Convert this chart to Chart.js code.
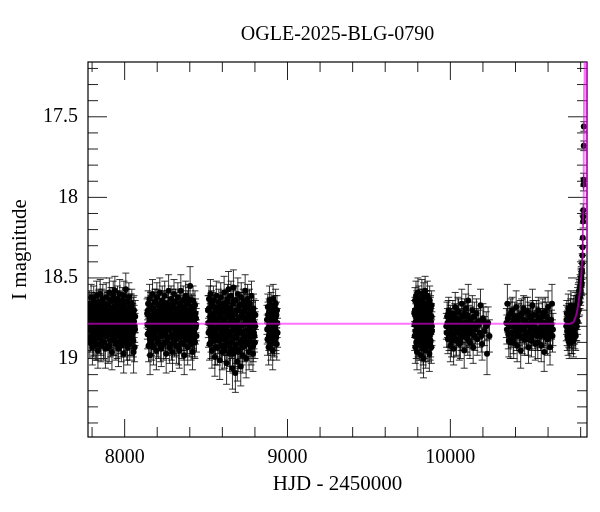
<!DOCTYPE html>
<html>
<head>
<meta charset="utf-8">
<script src="https://cdn.jsdelivr.net/npm/chart.js@4.4.1/dist/chart.umd.min.js"></script>
<style>
html,body{margin:0;padding:0;background:#fff;}
canvas{display:block;}
</style>
</head>
<body>
<canvas id="c" width="600" height="512"></canvas>
<script>
// ---- data: [HJD-2450000, I mag, error] ----
const season2017 = [[7778,18.74,.08],[7781,18.82,.09],[7783,18.66,.08],[7786,18.90,.10],[7788,18.71,.08],[7791,18.78,.09],[7794,18.62,.08],[7796,18.86,.09],[7799,18.75,.08],[7802,18.93,.11],[7804,18.69,.08],[7807,18.80,.09],[7810,18.64,.09],[7812,18.88,.10],[7815,18.72,.08],[7818,18.84,.09],[7820,18.67,.08],[7823,18.91,.10],[7826,18.76,.08],[7828,18.61,.09],[7831,18.83,.09],[7834,18.70,.08],[7836,18.95,.11],[7839,18.79,.09],[7842,18.65,.08],[7844,18.87,.10],[7847,18.73,.08],[7850,18.60,.09],[7852,18.81,.09],[7855,18.92,.10],[7858,18.68,.08],[7860,18.77,.09],[7863,18.85,.09],[7866,18.63,.09],[7868,18.74,.08],[7871,18.90,.11],[7874,18.71,.08],[7876,18.82,.09],[7879,18.66,.08],[7882,18.94,.12],[7884,18.78,.08],[7887,18.62,.09],[7890,18.86,.09],[7892,18.70,.08],[7895,18.80,.09],[7898,18.93,.10],[7900,18.67,.08],[7903,18.75,.09],[7906,18.59,.09],[7908,18.84,.09],[7911,18.72,.08],[7914,18.89,.10],[7916,18.64,.08],[7919,18.79,.09],[7922,18.96,.11],[7924,18.69,.08],[7927,18.83,.09],[7930,18.61,.09],[7932,18.76,.08],[7935,18.88,.10],[7938,18.73,.08],[7940,18.58,.09],[7943,18.81,.09],[7946,18.91,.10],[7948,18.66,.08],[7951,18.77,.09],[7954,18.85,.09],[7956,18.63,.08],[7959,18.74,.08],[7962,18.94,.11],[7964,18.70,.08],[7967,18.82,.09],[7970,18.60,.09],[7972,18.87,.10],[7975,18.75,.08],[7978,18.68,.08],[7980,18.92,.10],[7983,18.79,.09],[7986,18.64,.08],[7988,18.84,.09],[7991,18.72,.08],[7994,18.97,.12],[7996,18.61,.09],[7999,18.80,.09],[8002,18.69,.08],[8004,18.89,.10],[8007,18.57,.10],[8010,18.76,.08],[8012,18.86,.09],[8015,18.65,.08],[8018,18.93,.11],[8020,18.73,.08],[8023,18.83,.09],[8026,18.62,.09],[8028,18.78,.08],[8031,18.91,.10],[8034,18.68,.08],[8036,18.81,.09],[8039,18.74,.08],[8042,18.88,.10],[8044,18.66,.09],[8047,18.79,.09],[8050,18.84,.10],[8053,18.71,.09],[8055,18.96,.13],[8058,18.77,.10],[8061,18.93,.09],[8064,18.82,.10],
[7779.5,18.80,.09],[7784.5,18.70,.08],[7789.5,18.87,.09],[7793.5,18.76,.08],[7797.5,18.67,.08],[7801.5,18.83,.09],[7805.5,18.74,.08],[7809.5,18.89,.10],[7813.5,18.79,.09],[7817.5,18.68,.08],[7821.5,18.85,.09],[7825.5,18.72,.08],[7829.5,18.91,.10],[7833.5,18.81,.09],[7837.5,18.66,.08],[7841.5,18.77,.08],[7845.5,18.84,.09],[7849.5,18.71,.08],[7853.5,18.88,.10],[7857.5,18.78,.08],[7861.5,18.65,.08],[7865.5,18.82,.09],[7869.5,18.74,.08],[7873.5,18.90,.10],[7877.5,18.69,.08],[7881.5,18.80,.09],[7885.5,18.86,.09],[7889.5,18.73,.08],[7893.5,18.67,.08],[7897.5,18.83,.09],[7901.5,18.76,.08],[7905.5,18.92,.10],[7909.5,18.70,.08],[7913.5,18.79,.09],[7917.5,18.85,.09],[7921.5,18.72,.08],[7925.5,18.64,.08],[7929.5,18.88,.10],[7933.5,18.81,.09],[7937.5,18.68,.08],[7941.5,18.75,.08],[7945.5,18.84,.09],[7949.5,18.71,.08],[7953.5,18.90,.10],[7957.5,18.78,.08],[7961.5,18.66,.08],[7965.5,18.86,.09],[7969.5,18.73,.08],[7973.5,18.80,.09],[7977.5,18.89,.10],[7981.5,18.69,.08],[7985.5,18.77,.08],[7989.5,18.82,.09],[7993.5,18.67,.08],[7997.5,18.87,.09],[8001.5,18.74,.08],[8005.5,18.80,.09],[8009.5,18.65,.08],[8013.5,18.91,.10],[8017.5,18.76,.08],[8021.5,18.70,.08],[8025.5,18.85,.09],[8029.5,18.72,.08],[8033.5,18.88,.10],[8037.5,18.79,.09],[8041.5,18.68,.08],[8045.5,18.83,.09],[8049.5,18.75,.09],[8053.5,18.89,.10],[8057.5,18.70,.09],[8061.5,18.80,.10],[8065,18.74,.10]];
const season2018 = [[8138,18.72,.09],[8141,18.85,.09],[8144,18.66,.08],[8147,18.92,.10],[8150,18.78,.08],[8153,18.63,.09],[8156,18.98,.12],[8159,18.81,.09],[8162,18.69,.08],[8165,18.88,.10],[8168,18.74,.08],[8171,18.60,.09],[8174,18.84,.09],[8177,18.93,.11],[8180,18.70,.08],[8183,18.79,.09],[8186,18.65,.08],[8189,18.87,.10],[8192,18.73,.08],[8195,18.95,.12],[8198,18.62,.09],[8201,18.82,.09],[8204,18.76,.08],[8207,18.90,.10],[8210,18.67,.08],[8213,18.80,.09],[8216,18.59,.09],[8219,18.86,.09],[8222,18.71,.08],[8225,18.94,.11],[8228,18.77,.08],[8231,18.64,.09],[8234,18.83,.09],[8237,18.69,.08],[8240,18.91,.10],[8243,18.75,.08],[8246,18.61,.09],[8249,18.85,.09],[8252,18.72,.08],[8255,18.97,.12],[8258,18.80,.09],[8261,18.66,.08],[8264,18.88,.10],[8267,18.74,.08],[8270,18.58,.10],[8273,18.82,.09],[8276,18.93,.10],[8279,18.70,.08],[8282,18.78,.09],[8285,18.63,.08],[8288,18.86,.09],[8291,18.73,.08],[8294,18.96,.12],[8297,18.68,.08],[8300,18.81,.09],[8303,18.60,.09],[8306,18.89,.10],[8309,18.76,.08],[8312,18.65,.08],[8315,18.84,.09],[8318,18.92,.11],[8321,18.71,.08],[8324,18.79,.09],[8327,18.62,.09],[8330,18.87,.10],[8333,18.74,.08],[8336,18.95,.11],[8339,18.67,.08],[8342,18.83,.09],[8345,18.58,.10],[8348,18.77,.08],[8351,18.90,.10],[8354,18.69,.08],[8357,18.81,.09],[8360,18.64,.09],[8363,18.86,.09],[8366,18.98,.12],[8369,18.72,.08],[8372,18.80,.09],[8375,18.61,.09],[8378,18.88,.10],[8381,18.75,.08],[8384,18.66,.08],[8387,18.93,.11],[8390,18.78,.09],[8393,18.63,.09],[8396,18.85,.09],[8399,18.70,.08],[8402,18.55,.12],[8405,18.82,.09],[8408,18.91,.10],[8411,18.68,.08],[8414,18.79,.09],[8417,18.96,.11],[8420,18.64,.09],[8423,18.84,.10],[8426,18.73,.08],[8429,18.89,.10],[8432,18.67,.09],[8435,18.81,.10],[8438,18.75,.09],[8441,18.86,.10],
[8139.5,18.79,.09],[8143.5,18.70,.08],[8147.5,18.84,.09],[8151.5,18.74,.08],[8155.5,18.88,.10],[8159.5,18.67,.08],[8163.5,18.80,.09],[8167.5,18.91,.10],[8171.5,18.76,.08],[8175.5,18.69,.08],[8179.5,18.85,.09],[8183.5,18.72,.08],[8187.5,18.82,.09],[8191.5,18.65,.08],[8195.5,18.78,.08],[8199.5,18.89,.10],[8203.5,18.71,.08],[8207.5,18.83,.09],[8211.5,18.75,.08],[8215.5,18.68,.08],[8219.5,18.92,.10],[8223.5,18.80,.09],[8227.5,18.73,.08],[8231.5,18.86,.09],[8235.5,18.77,.08],[8239.5,18.66,.08],[8243.5,18.84,.09],[8247.5,18.70,.08],[8251.5,18.90,.10],[8255.5,18.79,.09],[8259.5,18.74,.08],[8263.5,18.82,.09],[8267.5,18.67,.08],[8271.5,18.87,.10],[8275.5,18.76,.08],[8279.5,18.81,.09],[8283.5,18.71,.08],[8287.5,18.91,.10],[8291.5,18.78,.08],[8295.5,18.65,.08],[8299.5,18.85,.09],[8303.5,18.73,.08],[8307.5,18.80,.09],[8311.5,18.88,.10],[8315.5,18.69,.08],[8319.5,18.76,.08],[8323.5,18.84,.09],[8327.5,18.72,.08],[8331.5,18.93,.11],[8335.5,18.79,.09],[8339.5,18.66,.08],[8343.5,18.82,.09],[8347.5,18.74,.08],[8351.5,18.86,.09],[8355.5,18.70,.08],[8359.5,18.78,.08],[8363.5,18.91,.10],[8367.5,18.68,.08],[8371.5,18.83,.09],[8375.5,18.75,.08],[8379.5,18.80,.09],[8383.5,18.87,.10],[8387.5,18.71,.08],[8391.5,18.65,.09],[8395.5,18.79,.09],[8399.5,18.89,.10],[8403.5,18.73,.08],[8407.5,18.84,.09],[8411.5,18.77,.08],[8415.5,18.69,.08],[8419.5,18.86,.09],[8423.5,18.74,.09],[8427.5,18.81,.09],[8431.5,18.90,.10],[8435.5,18.72,.09],[8439.5,18.79,.10]];
const season2019 = [[8512,18.70,.09],[8515,18.84,.09],[8518,18.63,.08],[8521,18.91,.10],[8524,18.77,.08],[8527,18.60,.09],[8530,18.86,.10],[8533,18.73,.08],[8536,18.95,.11],[8539,18.67,.08],[8542,18.81,.09],[8545,18.64,.09],[8548,18.89,.10],[8551,18.75,.08],[8554,18.99,.12],[8557,18.69,.08],[8560,18.83,.09],[8563,18.61,.09],[8566,18.78,.08],[8569,18.93,.11],[8572,18.71,.08],[8575,18.87,.10],[8578,18.65,.08],[8581,18.80,.09],[8584,19.01,.12],[8587,18.74,.08],[8590,18.62,.09],[8593,18.85,.09],[8596,18.70,.08],[8599,18.96,.11],[8602,18.79,.09],[8605,18.66,.08],[8608,18.88,.10],[8611,18.59,.10],[8614,18.76,.08],[8617,18.92,.10],[8620,18.68,.08],[8623,18.82,.09],[8626,19.03,.13],[8629,18.72,.08],[8632,18.63,.09],[8635,18.86,.10],[8638,18.57,.11],[8641,18.79,.09],[8644,18.97,.11],[8647,18.69,.08],[8650,18.84,.09],[8653,18.61,.09],[8656,18.90,.10],[8659,18.75,.08],[8662,19.06,.13],[8665,18.66,.08],[8668,18.56,.11],[8671,18.81,.09],[8674,18.94,.11],[8677,18.72,.08],[8680,19.09,.12],[8683,18.64,.09],[8686,18.87,.10],[8689,18.77,.08],[8692,19.02,.12],[8695,18.60,.10],[8698,18.83,.09],[8701,18.70,.08],[8704,18.95,.11],[8707,18.67,.08],[8710,18.80,.09],[8713,19.05,.12],[8716,18.62,.09],[8719,18.89,.10],[8722,18.74,.08],[8725,18.98,.11],[8728,18.65,.08],[8731,18.85,.09],[8734,18.71,.08],[8737,18.92,.10],[8740,18.58,.10],[8743,18.78,.09],[8746,19.00,.12],[8749,18.68,.08],[8752,18.83,.09],[8755,18.63,.09],[8758,18.90,.10],[8761,18.76,.08],[8764,18.96,.11],[8767,18.66,.09],[8770,18.81,.09],[8773,18.72,.08],[8776,18.93,.11],[8779,18.61,.09],[8782,18.86,.10],[8785,18.74,.09],[8788,18.97,.11],[8791,18.69,.09],[8794,18.84,.10],[8797,18.78,.09],[8800,18.90,.10],[8803,18.73,.09],
[8513.5,18.78,.09],[8517.5,18.69,.08],[8521.5,18.83,.09],[8525.5,18.74,.08],[8529.5,18.90,.10],[8533.5,18.66,.08],[8537.5,18.80,.09],[8541.5,18.87,.10],[8545.5,18.72,.08],[8549.5,18.84,.09],[8553.5,18.77,.08],[8557.5,18.93,.11],[8561.5,18.70,.08],[8565.5,18.86,.09],[8569.5,18.75,.08],[8573.5,18.81,.09],[8577.5,18.68,.08],[8581.5,18.89,.10],[8585.5,18.79,.09],[8589.5,18.73,.08],[8593.5,18.92,.10],[8597.5,18.82,.09],[8601.5,18.67,.08],[8605.5,18.85,.09],[8609.5,18.76,.08],[8613.5,18.95,.11],[8617.5,18.71,.08],[8621.5,18.88,.10],[8625.5,18.80,.09],[8629.5,18.65,.08],[8633.5,18.91,.10],[8637.5,18.74,.08],[8641.5,18.86,.09],[8645.5,18.69,.08],[8649.5,18.94,.11],[8653.5,18.78,.09],[8657.5,18.83,.09],[8661.5,18.72,.08],[8665.5,18.97,.12],[8669.5,18.64,.09],[8673.5,18.87,.10],[8677.5,18.80,.09],[8681.5,18.92,.11],[8685.5,18.70,.08],[8689.5,18.85,.09],[8693.5,18.76,.08],[8697.5,18.96,.12],[8701.5,18.82,.09],[8705.5,18.67,.08],[8709.5,18.90,.10],[8713.5,18.74,.08],[8717.5,18.84,.09],[8721.5,18.93,.11],[8725.5,18.71,.08],[8729.5,18.79,.09],[8733.5,18.88,.10],[8737.5,18.68,.08],[8741.5,18.83,.09],[8745.5,18.75,.08],[8749.5,18.91,.10],[8753.5,18.78,.09],[8757.5,18.66,.08],[8761.5,18.86,.09],[8765.5,18.73,.08],[8769.5,18.89,.10],[8773.5,18.80,.09],[8777.5,18.70,.08],[8781.5,18.84,.09],[8785.5,18.77,.09],[8789.5,18.92,.10],[8793.5,18.72,.09],[8797.5,18.86,.10],[8801.5,18.80,.09]];
const season2020 = [[8874,18.76,.09],[8877,18.88,.10],[8879,18.68,.08],[8882,18.81,.09],[8884,18.93,.11],[8887,18.71,.08],[8889,18.64,.09],[8892,18.85,.09],[8894,18.74,.08],[8897,18.91,.10],[8899,18.67,.08],[8902,18.79,.09],[8904,18.87,.10],[8907,18.70,.08],[8909,18.95,.12],[8912,18.63,.09],[8914,18.83,.09],[8917,18.76,.08],[8919,18.89,.10],[8922,18.69,.08],[8924,18.80,.09],[8927,18.66,.09],[8929,18.86,.09],[8932,18.73,.08],[8934,18.91,.10],[8937,18.78,.09],[8939,18.84,.09],
[8875.5,18.82,.09],[8880.5,18.73,.08],[8885.5,18.86,.09],[8890.5,18.77,.08],[8895.5,18.70,.08],[8900.5,18.84,.09],[8905.5,18.76,.08],[8910.5,18.88,.10],[8915.5,18.72,.08],[8920.5,18.81,.09],[8925.5,18.74,.08],[8930.5,18.87,.10],[8935.5,18.70,.09]];
const season2022 = [[9779,18.72,.08],[9781,18.86,.09],[9783,18.64,.08],[9785,18.93,.10],[9787,18.77,.08],[9789,18.61,.09],[9791,18.84,.09],[9793,18.70,.08],[9795,18.96,.11],[9797,18.67,.08],[9799,18.81,.09],[9801,18.59,.09],[9803,18.89,.10],[9805,18.75,.08],[9807,18.63,.08],[9809,18.91,.10],[9811,18.79,.08],[9813,18.68,.08],[9815,18.86,.09],[9817,18.73,.08],[9819,18.98,.11],[9821,18.65,.08],[9823,18.82,.09],[9825,18.60,.09],[9827,18.88,.10],[9829,18.76,.08],[9831,18.69,.08],[9833,18.94,.10],[9835,19.00,.12],[9837,18.62,.09],[9839,18.84,.09],[9841,18.71,.08],[9843,18.90,.10],[9845,18.58,.09],[9847,18.78,.08],[9849,18.95,.11],[9851,18.66,.08],[9853,18.83,.09],[9855,18.73,.08],[9857,18.87,.09],[9859,18.61,.09],[9861,18.80,.08],[9863,18.92,.10],[9865,18.68,.08],[9867,18.85,.09],[9869,18.74,.08],[9871,18.97,.11],[9873,18.64,.09],[9875,18.81,.09],[9877,18.70,.08],[9879,18.89,.10],[9881,18.77,.08],[9883,18.93,.10],[9885,18.67,.09],[9887,18.83,.09],
[9780,18.79,.08],[9782.5,18.70,.08],[9785.5,18.83,.09],[9788,18.74,.08],[9790.5,18.90,.10],[9793.5,18.66,.08],[9796,18.80,.09],[9798.5,18.87,.09],[9801.5,18.72,.08],[9804,18.84,.09],[9806.5,18.77,.08],[9809.5,18.68,.08],[9812,18.88,.10],[9814.5,18.75,.08],[9817.5,18.82,.09],[9820,18.71,.08],[9822.5,18.91,.10],[9825.5,18.78,.08],[9828,18.65,.08],[9830.5,18.85,.09],[9833.5,18.73,.08],[9836,18.80,.09],[9838.5,18.92,.10],[9841.5,18.69,.08],[9844,18.83,.09],[9846.5,18.76,.08],[9849.5,18.87,.09],[9852,18.71,.08],[9854.5,18.79,.09],[9857.5,18.66,.08],[9860,18.89,.10],[9862.5,18.75,.08],[9865.5,18.82,.09],[9868,18.72,.08],[9870.5,18.86,.09],[9873.5,18.78,.08],[9876,18.91,.10],[9878.5,18.69,.08],[9881.5,18.84,.09],[9884,18.74,.08],[9886.5,18.80,.09]];
const season2023 = [[9975,18.80,.08],[9980,18.74,.09],[9985,18.88,.09],[9990,18.70,.08],[9995,18.84,.09],[10000,18.92,.10],[10005,18.77,.08],[10010,18.86,.09],[10015,18.72,.08],[10020,18.94,.10],[10025,18.81,.09],[10030,18.68,.09],[10035,18.89,.10],[10040,18.76,.08],[10045,18.83,.09],[10050,18.71,.08],[10055,18.91,.10],[10060,18.79,.09],[10065,18.86,.09],[10070,18.66,.09],[10075,18.82,.09],[10080,18.74,.08],[10085,18.95,.11],[10090,18.78,.09],[10095,18.69,.09],[10100,18.87,.09],[10105,18.73,.08],[10110,18.64,.10],[10115,18.84,.09],[10120,18.90,.10],[10125,18.76,.08],[10130,18.82,.09],[10135,18.70,.09],[10140,18.93,.10],[10145,18.79,.09],[10150,18.86,.09],[10160,18.72,.09],[10165,18.88,.10],[10170,18.77,.08],[10180,18.84,.09],[10185,18.67,.10],[10195,18.91,.10],[10200,18.75,.09],[10210,18.83,.09],[10220,18.80,.09],[10225,18.97,.13],[10232,18.78,.10],[10240,18.86,.10],
[9977,18.84,.09],[9982,18.78,.09],[9987,18.72,.08],[9992,18.86,.09],[9997,18.80,.09],[10002,18.75,.08],[10007,18.89,.10],[10012,18.82,.09],[10017,18.77,.08],[10022,18.85,.09],[10027,18.74,.08],[10032,18.80,.09],[10037,18.88,.10],[10042,18.79,.09],[10047,18.71,.09],[10052,18.84,.09],[10057,18.77,.08],[10062,18.90,.10],[10067,18.81,.09],[10072,18.74,.09],[10077,18.86,.09],[10082,18.79,.09],[10087,18.72,.09],[10092,18.84,.09],[10097,18.78,.09],[10102,18.81,.09],[10107,18.88,.10],[10112,18.76,.09],[10117,18.83,.09],[10127,18.79,.09],[10137,18.85,.09],[10147,18.74,.09],[10155,18.82,.09],[10175,18.79,.09],[10190,18.86,.10],[10205,18.77,.09]];
const season2024 = [[10344,18.78,.09],[10350,18.66,.12],[10356,18.85,.09],[10362,18.73,.08],[10368,18.90,.10],[10374,18.80,.09],[10380,18.70,.08],[10386,18.87,.10],[10392,18.76,.08],[10398,18.83,.09],[10404,18.68,.10],[10410,18.92,.10],[10416,18.79,.09],[10420,18.74,.08],[10426,18.86,.09],[10432,18.95,.11],[10438,18.72,.09],[10444,18.81,.09],[10450,18.69,.08],[10456,18.88,.10],[10462,18.77,.08],[10468,18.84,.09],[10474,18.71,.09],[10480,18.93,.10],[10486,18.80,.09],[10492,18.75,.08],[10498,18.89,.10],[10504,18.67,.10],[10510,18.82,.09],[10516,18.78,.08],[10522,18.91,.10],[10528,18.73,.09],[10534,18.86,.09],[10540,18.70,.08],[10546,18.84,.09],[10552,18.77,.08],[10558,18.92,.10],[10564,18.74,.09],[10570,18.83,.09],[10576,18.96,.12],[10582,18.71,.09],[10588,18.87,.10],[10594,18.79,.09],[10600,18.68,.10],[10606,18.85,.09],[10612,18.93,.11],[10618,18.76,.09],[10624,18.66,.12],[10630,18.82,.10],
[10347,18.82,.09],[10353,18.75,.09],[10359,18.89,.10],[10365,18.79,.09],[10371,18.72,.09],[10377,18.84,.09],[10383,18.78,.09],[10389,18.90,.10],[10395,18.74,.09],[10401,18.81,.09],[10407,18.86,.09],[10413,18.77,.09],[10423,18.83,.09],[10429,18.73,.09],[10435,18.80,.09],[10441,18.87,.10],[10447,18.76,.09],[10453,18.82,.09],[10459,18.71,.09],[10465,18.85,.09],[10471,18.79,.09],[10477,18.88,.10],[10483,18.74,.09],[10489,18.83,.09],[10495,18.78,.09],[10501,18.86,.09],[10507,18.73,.09],[10513,18.80,.09],[10519,18.85,.09],[10525,18.77,.09],[10531,18.82,.09],[10537,18.90,.10],[10543,18.75,.09],[10549,18.81,.09],[10555,18.86,.09],[10561,18.79,.09],[10567,18.72,.09],[10573,18.84,.09],[10579,18.78,.09],[10585,18.82,.09],[10591,18.74,.09],[10597,18.88,.10],[10603,18.80,.09],[10609,18.76,.09],[10615,18.84,.09],[10621,18.79,.09],[10627,18.86,.10]];
const season2025 = [[10712,18.80,.09],[10715,18.72,.08],[10718,18.86,.09],[10721,18.76,.08],[10724,18.69,.09],[10727,18.84,.09],[10730,18.90,.10],[10733,18.74,.08],[10736,18.81,.09],[10740,18.67,.09],[10743,18.87,.10],[10746,18.78,.08],[10750,18.83,.09],[10753,18.71,.08],[10756,18.89,.10],[10760,18.75,.08],[10763,18.82,.09],[10766,18.68,.09],[10770,18.86,.09],[10773,18.73,.08],[10776,18.80,.09],[10779,18.66,.08],[10782,18.77,.08],[10785,18.62,.08],[10788,18.70,.08],[10791,18.58,.07],[10794,18.65,.08],[10797,18.55,.07],[10800,18.60,.07],[10802,18.52,.07],[10804,18.49,.06],[10806,18.54,.07],[10808,18.45,.06],[10809,18.41,.06],[10811,18.36,.05],[10812,18.31,.05],[10813,18.25,.05],[10815,18.15,.04],[10815.5,18.12,.04],[10816,18.08,.04],[10817.5,17.92,.04],[10818,17.89,.04],[10819,17.68,.03],[10819.5,17.56,.03],
[10713,18.76,.09],[10717,18.83,.09],[10720,18.79,.09],[10723,18.88,.10],[10726,18.74,.08],[10729,18.81,.09],[10732,18.85,.09],[10735,18.77,.08],[10738,18.72,.09],[10742,18.84,.09],[10745,18.80,.08],[10748,18.87,.10],[10752,18.76,.08],[10755,18.82,.09],[10758,18.70,.09],[10762,18.79,.08],[10765,18.85,.09],[10768,18.74,.08],[10772,18.80,.09],[10775,18.69,.08],[10778,18.74,.08],[10781,18.64,.08],[10784,18.70,.08],[10787,18.61,.08],[10790,18.66,.08],[10793,18.59,.07],[10796,18.62,.07],[10799,18.56,.07],[10801,18.58,.07],[10803,18.50,.06],[10805,18.53,.07],[10807,18.47,.06]];
const seasons = [season2017, season2018, season2019, season2020, season2022, season2023, season2024, season2025];

// model light curve
const modelHJD = [7775, 10700, 10737, 10755, 10768, 10778, 10786, 10795, 10803, 10809, 10813, 10816, 10819, 10821, 10823, 10826, 10829, 10832, 10834.5, 10836.5, 10838.5, 10841];
const modelMag = [18.785, 18.785, 18.784, 18.775, 18.745, 18.71, 18.66, 18.59, 18.50, 18.38, 18.24, 18.08, 17.75, 17.30, 16.90, 16.60, 16.70, 16.95, 17.30, 17.70, 18.05, 18.35];

// axes
const xRange = [7775, 10839];
const yRange = [17.16, 19.487];
const xLabelTicks = [8000, 9000, 10000];
const xMinorTicks = [7800,8000,8200,8400,8600,8800,9000,9200,9400,9600,9800,10000,10200,10400,10600,10800];
const yLabelTicks = [17.5, 18, 18.5, 19];
const yMinorTicks = [17.2,17.3,17.4,17.5,17.6,17.7,17.8,17.9,18,18.1,18.2,18.3,18.4,18.5,18.6,18.7,18.8,18.9,19,19.1,19.2,19.3,19.4];

const titleText = 'OGLE-2025-BLG-0790';
const xTitle = 'HJD - 2450000';
const yTitle = 'I magnitude';

const FONT = 'Liberation Serif';

const framePlugin = {
  id: 'frameTicks',
  beforeDraw(chart) {
    const c = chart.ctx;
    c.save(); c.fillStyle = '#fff'; c.fillRect(0, 0, chart.width, chart.height); c.restore();
  },
  beforeDatasetsDraw(chart) {
    const {ctx, chartArea: a, scales: {x, y}} = chart;
    ctx.save();
    ctx.beginPath(); ctx.rect(a.left, a.top, a.right - a.left, a.bottom - a.top); ctx.clip();
    ctx.strokeStyle = 'rgba(0,0,0,0.8)';
    ctx.lineWidth = 1;
    for (const s of seasons) {
      for (const [t, m, e] of s) {
        const px = x.getPixelForValue(t);
        const y1 = y.getPixelForValue(m - e);
        const y2 = y.getPixelForValue(m + e);
        ctx.beginPath();
        ctx.moveTo(px, y1); ctx.lineTo(px, y2);
        ctx.moveTo(px - 3.5, y1); ctx.lineTo(px + 3.5, y1);
        ctx.moveTo(px - 3.5, y2); ctx.lineTo(px + 3.5, y2);
        ctx.stroke();
      }
    }
    ctx.restore();
    ctx.save();
    ctx.strokeStyle = '#222';
    ctx.lineWidth = 1;
    ctx.beginPath();
    for (const v of xMinorTicks) {
      const px = x.getPixelForValue(v);
      const len = xLabelTicks.includes(v) ? 18 : 10;
      ctx.moveTo(px, a.bottom); ctx.lineTo(px, a.bottom - len);
      ctx.moveTo(px, a.top); ctx.lineTo(px, a.top + len);
    }
    for (const v of yMinorTicks) {
      const py = y.getPixelForValue(v);
      const len = yLabelTicks.includes(v) ? 19 : 10;
      ctx.moveTo(a.left, py); ctx.lineTo(a.left + len, py);
      ctx.moveTo(a.right, py); ctx.lineTo(a.right - len, py);
    }
    ctx.stroke();
    ctx.strokeStyle = '#000';
    ctx.lineWidth = 1.2;
    ctx.strokeRect(a.left, a.top, a.right - a.left, a.bottom - a.top);
    ctx.restore();
  }
};

const pointSets = seasons.map(s => ({
  type: 'scatter',
  data: s.map(p => ({x: p[0], y: p[1]})),
  pointRadius: 3,
  pointBackgroundColor: '#000',
  pointBorderWidth: 0,
  showLine: false,
  clip: 0,
  order: 1
}));

const modelSet = {
  type: 'line',
  data: modelHJD.map((t, i) => ({x: t, y: modelMag[i]})),
  borderColor: 'rgba(255,0,255,0.55)',
  borderWidth: 2,
  pointRadius: 0,
  tension: 0,
  clip: 0,
  order: 0
};

new Chart(document.getElementById('c'), {
  type: 'scatter',
  data: { datasets: [modelSet, ...pointSets] },
  options: {
    responsive: false,
    animation: false,
    devicePixelRatio: 1,
    layout: { padding: { left: 0, right: 13, top: 0, bottom: 0 } },
    plugins: {
      legend: { display: false },
      tooltip: { enabled: false },
      title: {
        display: true,
        text: titleText,
        fullSize: false,
        color: '#000',
        font: { family: FONT, size: 20, weight: 'normal', lineHeight: 1.2 },
        padding: { top: 23, bottom: 15 }
      }
    },
    scales: {
      x: {
        type: 'linear',
        min: xRange[0], max: xRange[1],
        grid: { display: false, drawTicks: false },
        border: { display: false },
        afterBuildTicks: s => { s.ticks = xLabelTicks.map(v => ({ value: v })); },
        afterFit: s => { s.height = 75; },
        ticks: {
          color: '#000', padding: 9, maxRotation: 0, autoSkip: false,
          font: { family: FONT, size: 20, lineHeight: 1.2 },
          callback: v => String(v)
        },
        title: {
          display: true, text: xTitle, color: '#000',
          font: { family: FONT, size: 21, lineHeight: 1.2 },
          padding: { top: 0, bottom: 15 }
        }
      },
      y: {
        type: 'linear',
        reverse: true,
        min: yRange[0], max: yRange[1],
        grid: { display: false, drawTicks: false },
        border: { display: false },
        afterBuildTicks: s => { s.ticks = yLabelTicks.map(v => ({ value: v })); },
        afterFit: s => { s.width = 88; },
        ticks: {
          color: '#000', padding: 10, autoSkip: false,
          font: { family: FONT, size: 20, lineHeight: 1.2 },
          callback: v => String(v)
        },
        title: {
          display: true, text: yTitle, color: '#000',
          font: { family: FONT, size: 21, lineHeight: 1.2 },
          padding: { top: 8, bottom: 0 }
        }
      }
    }
  },
  plugins: [framePlugin]
});
</script>
</body>
</html>
